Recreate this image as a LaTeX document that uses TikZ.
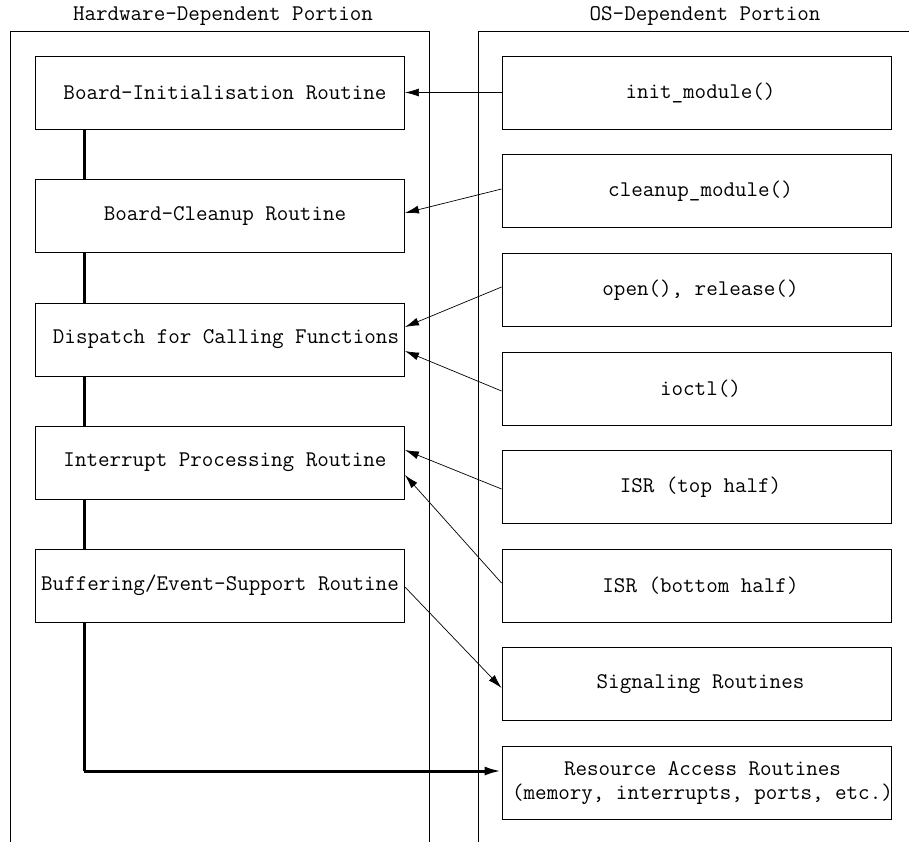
\documentclass[tikz,border=0pt]{standalone}
\usetikzlibrary{arrows.meta,backgrounds}
\begin{document}
\begin{tikzpicture}[x=1pt,y=-1pt,
  font=\ttfamily\fontsize{22.4}{24}\selectfont,
  panel/.style={line width=0.9pt},
  box/.style={draw,line width=0.9pt,fill=white,minimum width=369pt,minimum height=73pt,inner sep=0pt},
  osbox/.style={box,minimum width=389pt},
  txt/.style={inner sep=0pt,align=center},
  call/.style={line width=0.7pt,-{Latex[length=14pt,width=8pt]}},
  spine/.style={line width=3pt},
  title/.style={inner sep=0pt}]
\useasboundingbox (0,0) rectangle (909,842);

% column headings
\node[title] (hwtitle) at (223,16) {Hardware-Dependent Portion};
\node[title] (ostitle) at (705,16) {OS-Dependent Portion};

% column frames (open at the bottom)
\draw[panel] (10,842) -- (10,31.5) -- (429,31.5) -- (429,842);
\draw[panel] (478,842) -- (478,31.5) -- (912,31.5);

% hardware-dependent routines
\node[box] (binit) at (220,92.5) {};
\node[box] (bclean) at (220,216) {};
\node[box] (disp) at (220,339.5) {};
\node[box] (intr) at (220,462.5) {};
\node[box] (buff) at (220,585.5) {};
\node[txt] at ([xshift=5pt]binit.center) {Board-Initialisation Routine};
\node[txt] at ([xshift=5pt]bclean.center) {Board-Cleanup Routine};
\node[txt] at ([xshift=6pt]disp.center) {Dispatch for Calling Functions};
\node[txt] at ([xshift=5pt]intr.center) {Interrupt Processing Routine};
\node[txt] at ([xshift=0pt]buff.center) {Buffering/Event-Support Routine};

% OS-dependent routines
\node[osbox] (init) at (696.5,92.5) {};
\node[osbox] (clean) at (696.5,191) {};
\node[osbox] (open) at (696.5,290) {};
\node[osbox] (ioctl) at (696.5,388.5) {};
\node[osbox] (isrtop) at (696.5,487) {};
\node[osbox] (isrbot) at (696.5,585.5) {};
\node[osbox] (sig) at (696.5,684) {};
\node[osbox] (res) at (696.5,783) {};
\node[txt] at ([xshift=4pt]init.center) {init\_module()};
\node[txt] at ([xshift=4pt]clean.center) {cleanup\_module()};
\node[txt] at ([xshift=4pt]open.center) {open(), release()};
\node[txt] at ([xshift=4pt]ioctl.center) {ioctl()};
\node[txt] at ([xshift=4pt]isrtop.center) {ISR (top half)};
\node[txt] at ([xshift=4pt]isrbot.center) {ISR (bottom half)};
\node[txt] at ([xshift=4pt]sig.center) {Signaling Routines};
\node[txt] at ([xshift=6pt]res.center) {Resource Access Routines\\(memory, interrupts, ports, etc.)};

% thick spine joining the hardware routines to resource access
\coordinate (corner) at (84,771);
\begin{scope}[on background layer]
  \draw[spine] (84,129) -- (corner);
\end{scope}
\draw[spine,-{Latex[length=17pt,width=9pt]}] (corner) -- (res.west |- corner);

% calls between the two portions
\draw[call] (init.west) -- (binit.east);
\draw[call] ([yshift=2pt]clean.west) -- ([yshift=3pt]bclean.east);
\draw[call] ([yshift=3pt]open.west) -- ([yshift=12.5pt]disp.east);
\draw[call] ([yshift=-2.5pt]ioctl.west) -- ([yshift=-11.5pt]disp.east);
\draw[call] ([yshift=-2pt]isrtop.west) -- ([yshift=12.5pt]intr.east);
\draw[call] ([yshift=2.5pt]isrbot.west) -- ([yshift=-12.5pt]intr.east);
\draw[call] ([yshift=-1.5pt]buff.east) -- ([yshift=-4pt]sig.west);
\end{tikzpicture}
\end{document}
